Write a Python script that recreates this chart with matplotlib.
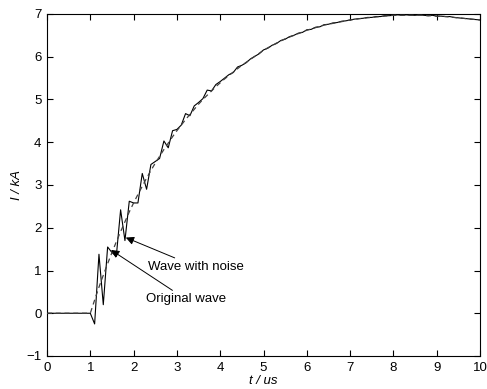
import numpy as np
import matplotlib
matplotlib.use("Agg")
import matplotlib.pyplot as plt

plt.rcParams['font.family'] = ['Liberation Sans', 'DejaVu Sans']

# time axis (us): 0, then 1.0 .. 10.0 in 0.1 steps
t_start = [0.0]
t_wave = list(np.round(np.arange(1.0, 10.001, 0.1), 1))
time = np.array(t_start + t_wave)

original_wave = [0.00,
    0.00, 0.31, 0.61, 0.89, 1.16, 1.42, 1.67, 1.91, 2.14, 2.37,
    2.58, 2.78, 2.97, 3.16, 3.34, 3.51, 3.67, 3.83, 3.98, 4.13,
    4.27, 4.40, 4.53, 4.65, 4.77, 4.89, 5.00, 5.10, 5.20, 5.30,
    5.39, 5.48, 5.56, 5.64, 5.72, 5.80, 5.87, 5.94, 6.01, 6.08,
    6.15, 6.21, 6.26, 6.32, 6.37, 6.42, 6.46, 6.50, 6.54, 6.58,
    6.62, 6.65, 6.68, 6.71, 6.74, 6.76, 6.78, 6.80, 6.82, 6.84,
    6.86, 6.87, 6.89, 6.90, 6.91, 6.92, 6.93, 6.94, 6.95, 6.96,
    6.97, 6.97, 6.97, 6.97, 6.97, 6.97, 6.97, 6.97, 6.96, 6.96,
    6.95, 6.95, 6.94, 6.93, 6.92, 6.91, 6.90, 6.89, 6.88, 6.87,
    6.86]

noise_wave = [0.00,
    0.00, -0.25, 1.38, 0.20, 1.55, 1.42, 1.33, 2.42, 1.70, 2.62,
    2.58, 2.58, 3.27, 2.90, 3.48, 3.55, 3.62, 4.03, 3.87, 4.27,
    4.30, 4.40, 4.67, 4.62, 4.85, 4.93, 5.02, 5.22, 5.20, 5.35,
    5.42, 5.50, 5.58, 5.63, 5.76, 5.80, 5.86, 5.95, 6.01, 6.07,
    6.16, 6.20, 6.27, 6.31, 6.38, 6.41, 6.47, 6.50, 6.55, 6.57,
    6.63, 6.64, 6.69, 6.70, 6.75, 6.76, 6.79, 6.80, 6.83, 6.84,
    6.86, 6.88, 6.89, 6.90, 6.92, 6.92, 6.94, 6.94, 6.96, 6.96,
    6.97, 6.98, 6.97, 6.98, 6.97, 6.97, 6.98, 6.97, 6.96, 6.97,
    6.95, 6.95, 6.94, 6.94, 6.92, 6.91, 6.90, 6.89, 6.88, 6.87,
    6.86]

x_ticks = list(range(0, 11))
y_ticks = list(range(-1, 8))

fig = plt.figure(figsize=(4.87, 3.89), dpi=100)
ax = fig.add_axes([47/487, 33/389, 433/487, 342/389])

ax.plot(time, noise_wave, color='k', lw=0.8, zorder=2)
ax.plot(time, original_wave, color='#404040', lw=0.9, ls=(0, (4, 3)), zorder=3)

ax.set_xlim(0, 10)
ax.set_ylim(-1, 7)
ax.set_xticks(x_ticks)
ax.set_yticks(y_ticks)
ax.tick_params(direction='in', top=True, right=True, labelsize=9.5, length=4, width=0.8, pad=4)
for s in ax.spines.values():
    s.set_linewidth(0.8)

ax.set_xlabel('t / us', fontsize=9.5, style='italic', labelpad=1)
ax.set_ylabel('I / kA', fontsize=9.5, style='italic', labelpad=2)

ap = dict(arrowstyle='-|>', color='k', lw=0.7, mutation_scale=12, shrinkA=0, shrinkB=0)
ax.annotate('Wave with noise', xy=(1.82, 1.77), xytext=(2.33, 1.09),
            fontsize=9.5, va='center', ha='left', arrowprops=ap)
ax.annotate('Original wave', xy=(1.48, 1.48), xytext=(2.28, 0.33),
            fontsize=9.5, va='center', ha='left', arrowprops=ap)

fig.savefig('out.png', dpi=100)
